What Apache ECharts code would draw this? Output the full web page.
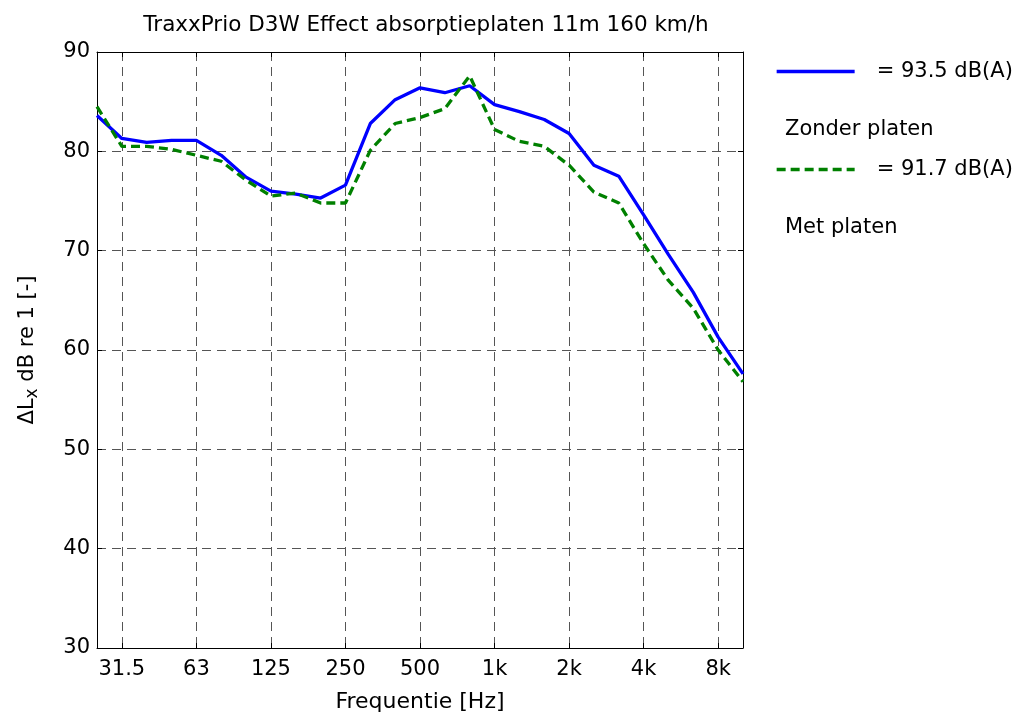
<!DOCTYPE html>
<html>
<head>
<meta charset="utf-8">
<script src="https://cdn.jsdelivr.net/npm/echarts@6/dist/echarts.min.js"></script>
<style>html,body{margin:0;padding:0;background:#fff;}#c{width:1031px;height:718px;}</style>
</head>
<body>
<div id="c"></div>
<script>
// 1/3-octave band centre frequencies (x categories)
const bands = ['25','31.5','40','50','63','80','100','125','160','200','250','315','400','500','630','800','1k','1.25k','1.6k','2k','2.5k','3.15k','4k','5k','6.3k','8k','10k'];
// labelled bands
const tickLabels = ['31.5','63','125','250','500','1k','2k','4k','8k'];
// series: Zonder platen (blue, solid) and Met platen (green, dashed)
const zonderPlaten = [83.6,81.3,80.9,81.1,81.1,79.6,77.4,76.0,75.7,75.3,76.6,82.8,85.2,86.4,85.9,86.6,84.7,84.0,83.2,81.8,78.6,77.5,73.6,69.6,65.8,61.3,57.6];
const metPlaten    = [84.5,80.5,80.5,80.2,79.6,79.0,77.1,75.5,75.8,74.8,74.8,80.1,82.8,83.4,84.3,87.6,82.2,81.0,80.5,78.6,75.9,74.8,70.7,67.0,64.2,60.0,56.8];
const seriesNames = ['= 93.5 dB(A)', '= 91.7 dB(A)'];
const legendLabels = ['Zonder platen', 'Met platen'];
const yTicks = {min: 30, max: 90, step: 10};

const FONT = 'DejaVu Sans';
const isTick = (idx) => tickLabels.indexOf(bands[idx]) >= 0;

const chart = echarts.init(document.getElementById('c'), null, {renderer: 'canvas'});
chart.setOption({
  animation: false,
  backgroundColor: '#fff',
  textStyle: {fontFamily: FONT},
  title: {
    text: 'TraxxPrio D3W Effect absorptieplaten 11m 160 km/h',
    left: 421, top: 9, textAlign: 'center',
    textStyle: {fontFamily: FONT, fontSize: 21.5, fontWeight: 'normal', color: '#000'}
  },
  grid: {left: 97, right: 288, top: 52, bottom: 70},
  legend: {
    orient: 'vertical', left: 770, top: 56,
    itemWidth: 78, itemHeight: 14, itemGap: 77,
    data: seriesNames,
    itemStyle: {opacity: 0},
    lineStyle: {width: 3.3},
    textStyle: {fontFamily: FONT, fontSize: 21, color: '#000', padding: [0,0,0,17]}
  },
  graphic: [
    {type: 'text', x: 785, y: 130, style: {text: legendLabels[0], font: '21px "DejaVu Sans"', fill: '#000', verticalAlign: 'middle'}},
    {type: 'text', x: 785, y: 228, style: {text: legendLabels[1], font: '21px "DejaVu Sans"', fill: '#000', verticalAlign: 'middle'}}
  ],
  xAxis: [{
    type: 'category', data: bands, boundaryGap: false, position: 'bottom',
    name: 'Frequentie [Hz]', nameLocation: 'middle', nameGap: 43,
    nameTextStyle: {fontFamily: FONT, fontSize: 22, color: '#000'},
    axisLine: {lineStyle: {color: '#000', width: 1}},
    axisTick: {inside: true, length: 5, interval: (i) => isTick(i), lineStyle: {color: '#000'}},
    axisLabel: {interval: (i) => isTick(i), fontSize: 21, color: '#000', margin: 11, fontFamily: FONT},
    splitLine: {show: true, interval: (i) => isTick(i), lineStyle: {color: '#555', type: [9, 6], width: 1}}
  }, {
    type: 'category', data: bands, boundaryGap: false, position: 'top',
    axisLine: {lineStyle: {color: '#000', width: 1}},
    axisTick: {inside: true, length: 5, interval: (i) => isTick(i), lineStyle: {color: '#000'}},
    axisLabel: {show: false}, splitLine: {show: false}
  }],
  yAxis: [{
    type: 'value', min: yTicks.min, max: yTicks.max, interval: yTicks.step,
    name: '{m|ΔL}{s|x}{m| dB re 1 [-]}', nameLocation: 'middle', nameGap: 56, nameRotate: 90,
    nameTextStyle: {fontFamily: FONT, fontSize: 21, color: '#000',
      rich: {m: {fontFamily: FONT, fontSize: 21, color: '#000', verticalAlign: 'top', lineHeight: 24},
             s: {fontFamily: FONT, fontSize: 17, color: '#000', verticalAlign: 'bottom', lineHeight: 17, padding: [12,0,0,0]}}},
    axisLine: {show: true, lineStyle: {color: '#000', width: 1}},
    axisTick: {show: true, inside: true, length: 5, lineStyle: {color: '#000'}},
    axisLabel: {fontSize: 21, color: '#000', margin: 7, fontFamily: FONT},
    splitLine: {show: true, lineStyle: {color: '#555', type: [9, 6], width: 1}}
  }, {
    type: 'value', min: yTicks.min, max: yTicks.max, interval: yTicks.step, position: 'right',
    axisLine: {show: true, lineStyle: {color: '#000', width: 1}},
    axisTick: {show: true, inside: true, length: 5, lineStyle: {color: '#000'}},
    axisLabel: {show: false}, splitLine: {show: false}
  }],
  series: [{
    name: seriesNames[0], type: 'line', data: zonderPlaten, symbol: 'none',
    lineStyle: {color: '#0000ff', width: 3.3}, itemStyle: {color: '#0000ff'}, z: 3
  }, {
    name: seriesNames[1], type: 'line', data: metPlaten, symbol: 'none',
    lineStyle: {color: '#008000', width: 3.3, type: [9, 5]}, itemStyle: {color: '#008000'}, z: 4
  }]
});
</script>
</body>
</html>
